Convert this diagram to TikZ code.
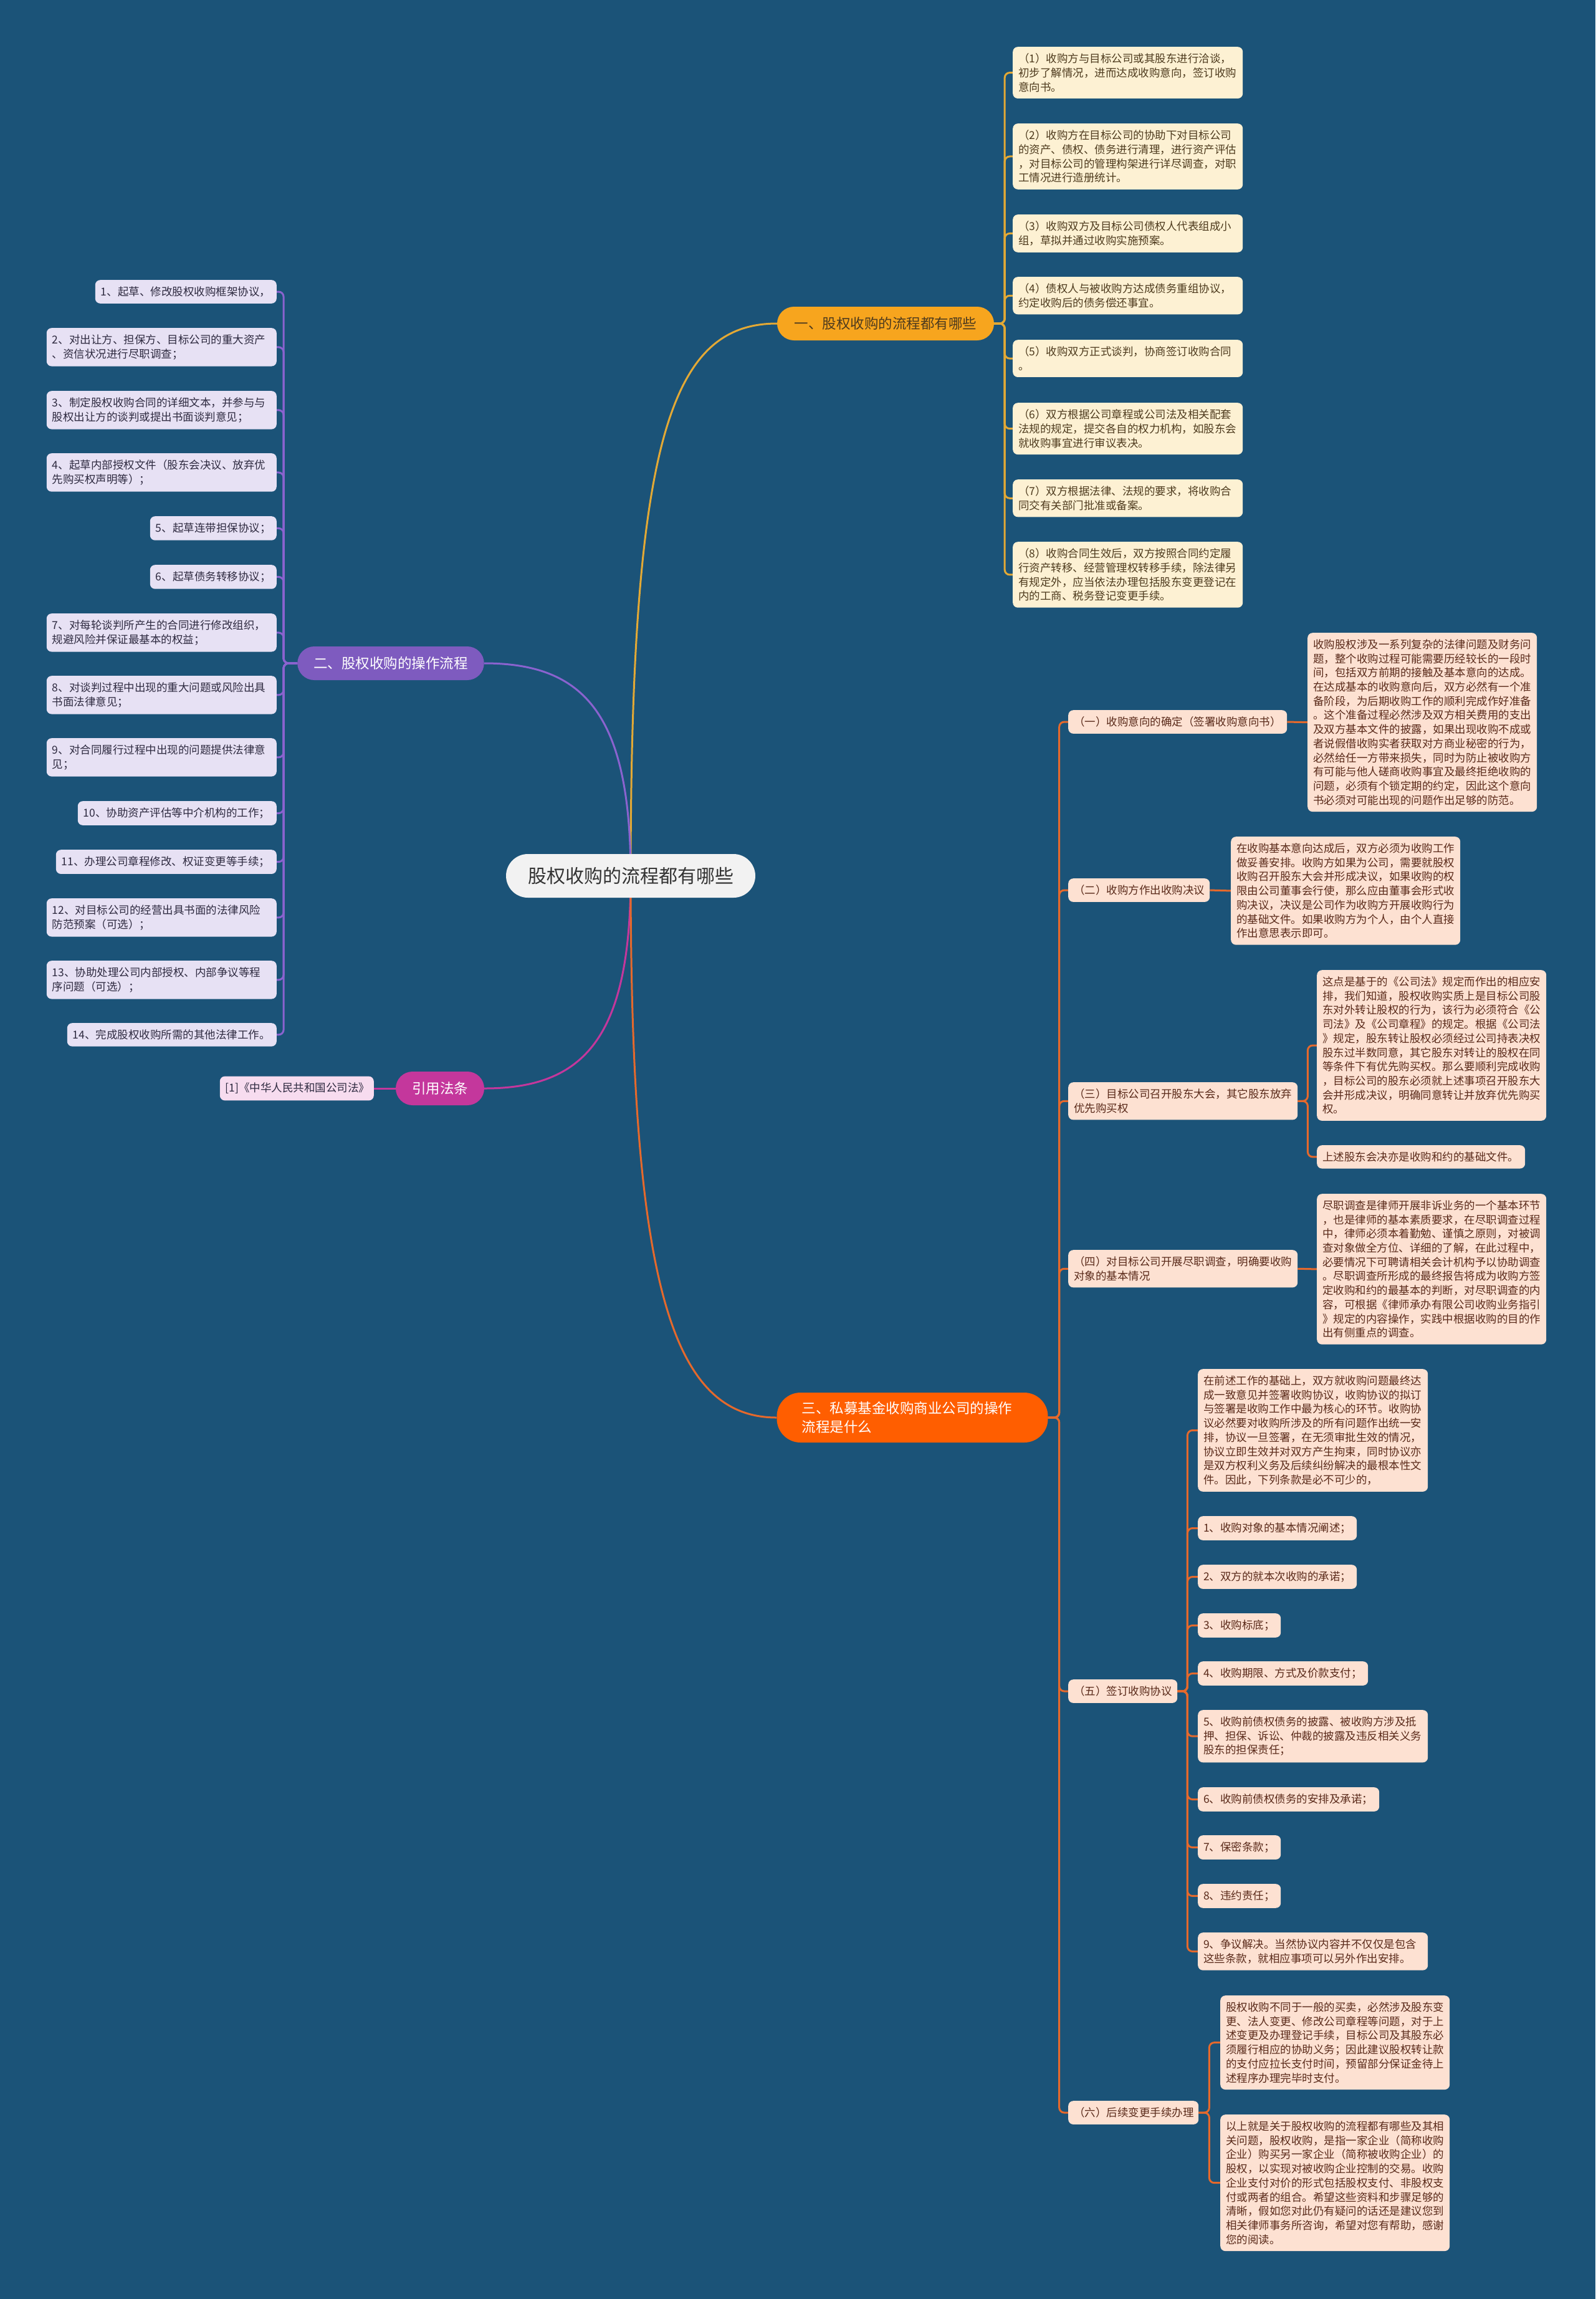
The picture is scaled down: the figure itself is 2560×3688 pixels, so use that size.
\documentclass[tikz,border=0pt]{standalone}
\usepackage{fontspec}
\newfontfamily\cjk{Noto Sans CJK SC}
\newcommand\leaffont{\cjk\fontsize{17.5pt}{22.7pt}\selectfont}
\newcommand\brfont{\cjk\fontsize{22.5pt}{30pt}\selectfont}
\newcommand\rootfont{\cjk\fontsize{30pt}{36pt}\selectfont}
\usetikzlibrary{positioning}
\pgfdeclarelayer{bg}
\pgfdeclarelayer{edges}
\pgfsetlayers{bg,edges,main}
\definecolor{bgblue}{HTML}{1B5378}
\definecolor{rootfill}{HTML}{F2F2F2}
\definecolor{yelbr}{HTML}{F7A51E}
\definecolor{yelline}{HTML}{E3A935}
\definecolor{yelleaf}{HTML}{FDF1D3}
\definecolor{yeltext}{HTML}{4E3B1E}
\definecolor{purbr}{HTML}{7E5BBF}
\definecolor{purline}{HTML}{8A63CF}
\definecolor{purleaf}{HTML}{E7E1F4}
\definecolor{purtext}{HTML}{2E2A40}
\definecolor{magbr}{HTML}{C4379C}
\definecolor{magleaf}{HTML}{F7DCEF}
\definecolor{orgbr}{HTML}{FF5E00}
\definecolor{orgline}{HTML}{E5692C}
\definecolor{orgleaf}{HTML}{FDE1D2}
\definecolor{orgtext}{HTML}{5A2A1A}

\begin{document}
\begin{tikzpicture}[x=1pt,y=-1pt,
 leafbox/.style={rounded corners=8pt,align=left,inner xsep=9pt,inner ysep=10.5pt,font=\leaffont},
 yleaf/.style={leafbox,fill=yelleaf,text=yeltext,anchor=north west,text width=351pt},
 pleaf/.style={leafbox,fill=purleaf,text=purtext,anchor=north east},
 oleaf/.style={leafbox,fill=orgleaf,text=orgtext,anchor=north west},
 brnode/.style={rounded corners=27pt,minimum height=54pt,inner xsep=26pt,font=\brfont},
 yline/.style={draw=yelline,line width=3pt,rounded corners=8pt},
 pline/.style={draw=purline,line width=3pt,rounded corners=8pt},
 mline/.style={draw=magbr,line width=3pt},
 oline/.style={draw=orgline,line width=3pt,rounded corners=8pt}]
\useasboundingbox (0,0) rectangle (2560,3688);
\begin{pgfonlayer}{bg}
 \fill[bgblue] (0,0) rectangle (2560,3688);
\end{pgfonlayer}

% centre and main branches
\node[fill=rootfill,text=black!80,rounded corners=35pt,minimum width=400pt,minimum height=70pt,font=\rootfont] (root) at (1012,1405) {股权收购的流程都有哪些};
\node[brnode,fill=yelbr,text=yeltext,minimum width=348pt] (b1) at (1421,519) {一、股权收购的流程都有哪些};
\node[brnode,fill=purbr,text=white,minimum width=299pt] (b2) at (627,1064) {二、股权收购的操作流程};
\node[brnode,fill=magbr,text=white,minimum width=142pt] (law) at (706,1746) {引用法条};
\node[brnode,fill=orgbr,text=white,minimum width=435pt,minimum height=80pt,rounded corners=38pt,align=left,text width=355pt] (b3) at (1464,2274) {三、私募基金收购商业公司的操作\\流程是什么};

\begin{pgfonlayer}{edges}
 \draw[yline] (root.center) .. controls +(0,-700) and +(-170,0) .. (b1.west);
 \draw[pline] (root.center) .. controls +(0,-260) and +(160,0) .. (b2.east);
 \draw[mline] (root.center) .. controls +(0,260) and +(160,0) .. (law.east);
 \draw[oline] (root.center) .. controls +(0,650) and +(-170,0) .. (b3.west);
\end{pgfonlayer}

% branch 1
\foreach \i/\y/\txt in {1/75/{（1）收购方与目标公司或其股东进行洽谈，\\初步了解情况，进而达成收购意向，签订收购\\意向书。},
 2/198/{（2）收购方在目标公司的协助下对目标公司\\的资产、债权、债务进行清理，进行资产评估\\，对目标公司的管理构架进行详尽调查，对职\\工情况进行造册统计。},
 3/344/{（3）收购双方及目标公司债权人代表组成小\\组，草拟并通过收购实施预案。},
 4/444/{（4）债权人与被收购方达成债务重组协议，\\约定收购后的债务偿还事宜。},
 5/545/{（5）收购双方正式谈判，协商签订收购合同\\。},
 6/646/{（6）双方根据公司章程或公司法及相关配套\\法规的规定，提交各自的权力机构，如股东会\\就收购事宜进行审议表决。},
 7/769/{（7）双方根据法律、法规的要求，将收购合\\同交有关部门批准或备案。},
 8/869/{（8）收购合同生效后，双方按照合同约定履\\行资产转移、经营管理权转移手续，除法律另\\有规定外，应当依法办理包括股东变更登记在\\内的工商、税务登记变更手续。}}
{
 \node[yleaf] (a\i) at (1625,\y) {\txt};
 \begin{pgfonlayer}{edges}
  \draw[yline] (b1.east) -- ++(17,0) |- (a\i.west);
 \end{pgfonlayer}
}

% branch 2
\foreach \i/\y/\w/\txt in {1/449/273/{1、起草、修改股权收购框架协议，},
 2/526/351/{2、对出让方、担保方、目标公司的重大资产\\、资信状况进行尽职调查；},
 3/627/351/{3、制定股权收购合同的详细文本，并参与与\\股权出让方的谈判或提出书面谈判意见；},
 4/727/351/{4、起草内部授权文件（股东会决议、放弃优\\先购买权声明等）；},
 5/828/185/{5、起草连带担保协议；},
 6/906/185/{6、起草债务转移协议；},
 7/984/351/{7、对每轮谈判所产生的合同进行修改组织，\\规避风险并保证最基本的权益；},
 8/1084/351/{8、对谈判过程中出现的重大问题或风险出具\\书面法律意见；},
 9/1184/351/{9、对合同履行过程中出现的问题提供法律意\\见；},
 10/1285/301/{10、协助资产评估等中介机构的工作；},
 11/1363/336/{11、办理公司章程修改、权证变更等手续；},
 12/1441/351/{12、对目标公司的经营出具书面的法律风险\\防范预案（可选）；},
 13/1541/351/{13、协助处理公司内部授权、内部争议等程\\序问题（可选）；},
 14/1641/318/{14、完成股权收购所需的其他法律工作。}}
{
 \node[pleaf,text width=\w pt] (p\i) at (444,\y) {\txt};
 \begin{pgfonlayer}{edges}
  \draw[pline] (b2.west) -- ++(-22,0) |- (p\i.east);
 \end{pgfonlayer}
}

% cited law
\node[leafbox,fill=magleaf,text=purtext,anchor=east,text width=229pt] (law1) at (600,1746) {[1]《中华人民共和国公司法》};
\begin{pgfonlayer}{edges}
 \draw[mline] (law.west) -- (law1.east);
\end{pgfonlayer}

% branch 3
\node[oleaf,text width=333pt] (s1) at (1714,1139) {（一）收购意向的确定（签署收购意向书）};
\node[oleaf,text width=209pt] (s2) at (1714,1409) {（二）收购方作出收购决议};
\node[oleaf,text width=350pt] (s3) at (1714,1736) {（三）目标公司召开股东大会，其它股东放弃\\优先购买权};
\node[oleaf,text width=350pt] (s4) at (1714,2005) {（四）对目标公司开展尽职调查，明确要收购\\对象的基本情况};
\node[oleaf,text width=157pt] (s5) at (1714,2694) {（五）签订收购协议};
\node[oleaf,text width=191pt] (s6) at (1714,3370) {（六）后续变更手续办理};

\node[oleaf,text width=350pt] (t1) at (2098,1015) {收购股权涉及一系列复杂的法律问题及财务问\\题，整个收购过程可能需要历经较长的一段时\\间，包括双方前期的接触及基本意向的达成。\\在达成基本的收购意向后，双方必然有一个准\\备阶段，为后期收购工作的顺利完成作好准备\\。这个准备过程必然涉及双方相关费用的支出\\及双方基本文件的披露，如果出现收购不成或\\者说假借收购实者获取对方商业秘密的行为，\\必然给任一方带来损失，同时为防止被收购方\\有可能与他人磋商收购事宜及最终拒绝收购的\\问题，必须有个锁定期的约定，因此这个意向\\书必须对可能出现的问题作出足够的防范。};
\node[oleaf,text width=350pt] (t2) at (1975,1342) {在收购基本意向达成后，双方必须为收购工作\\做妥善安排。收购方如果为公司，需要就股权\\收购召开股东大会并形成决议，如果收购的权\\限由公司董事会行使，那么应由董事会形式收\\购决议，决议是公司作为收购方开展收购行为\\的基础文件。如果收购方为个人，由个人直接\\作出意思表示即可。};
\node[oleaf,text width=350pt] (t3a) at (2113,1556) {这点是基于的《公司法》规定而作出的相应安\\排，我们知道，股权收购实质上是目标公司股\\东对外转让股权的行为，该行为必须符合《公\\司法》及《公司章程》的规定。根据《公司法\\》规定，股东转让股权必须经过公司持表决权\\股东过半数同意，其它股东对转让的股权在同\\等条件下有优先购买权。那么要顺利完成收购\\，目标公司的股东必须就上述事项召开股东大\\会并形成决议，明确同意转让并放弃优先购买\\权。};
\node[oleaf,text width=316pt] (t3b) at (2113,1837) {上述股东会决亦是收购和约的基础文件。};
\node[oleaf,text width=350pt] (t4) at (2113,1915) {尽职调查是律师开展非诉业务的一个基本环节\\，也是律师的基本素质要求，在尽职调查过程\\中，律师必须本着勤勉、谨慎之原则，对被调\\查对象做全方位、详细的了解，在此过程中，\\必要情况下可聘请相关会计机构予以协助调查\\。尽职调查所形成的最终报告将成为收购方签\\定收购和约的最基本的判断，对尽职调查的内\\容，可根据《律师承办有限公司收购业务指引\\》规定的内容操作，实践中根据收购的目的作\\出有侧重点的调查。};
\node[oleaf,text width=350pt] (t6a) at (1958,3201) {股权收购不同于一般的买卖，必然涉及股东变\\更、法人变更、修改公司章程等问题，对于上\\述变更及办理登记手续，目标公司及其股东必\\须履行相应的协助义务；因此建议股权转让款\\的支付应拉长支付时间，预留部分保证金待上\\述程序办理完毕时支付。};
\node[oleaf,text width=350pt] (t6b) at (1958,3392) {以上就是关于股权收购的流程都有哪些及其相\\关问题，股权收购，是指一家企业（简称收购\\企业）购买另一家企业（简称被收购企业）的\\股权，以实现对被收购企业控制的交易。收购\\企业支付对价的形式包括股权支付、非股权支\\付或两者的组合。希望这些资料和步骤足够的\\清晰，假如您对此仍有疑问的话还是建议您到\\相关律师事务所咨询，希望对您有帮助，感谢\\您的阅读。};

\begin{pgfonlayer}{edges}
 \foreach \s in {s1,s2,s3,s4,s5,s6}
  \draw[oline] (b3.east) -- ++(18,0) |- (\s.west);
 \draw[oline] (s1.east) -- (t1.west);
 \draw[oline] (s2.east) -- (t2.west);
 \draw[oline] (s3.east) -- ++(16,0) |- (t3a.west);
 \draw[oline] (s3.east) -- ++(16,0) |- (t3b.west);
 \draw[oline] (s4.east) -- (t4.west);
 \draw[oline] (s6.east) -- ++(17,0) |- (t6a.west);
 \draw[oline] (s6.east) -- ++(17,0) |- (t6b.west);
\end{pgfonlayer}

% agreement clauses
\foreach \i/\y/\w/\txt in {a/2196/351/{在前述工作的基础上，双方就收购问题最终达\\成一致意见并签署收购协议，收购协议的拟订\\与签署是收购工作中最为核心的环节。收购协\\议必然要对收购所涉及的所有问题作出统一安\\排，协议一旦签署，在无须审批生效的情况，\\协议立即生效并对双方产生拘束，同时协议亦\\是双方权利义务及后续纠纷解决的最根本性文\\件。因此，下列条款是必不可少的，},
 b/2432/237/{1、收购对象的基本情况阐述；},
 c/2510/237/{2、双方的就本次收购的承诺；},
 d/2588/115/{3、收购标底；},
 e/2665/255/{4、收购期限、方式及价款支付；},
 f/2743/351/{5、收购前债权债务的披露、被收购方涉及抵\\押、担保、诉讼、仲裁的披露及违反相关义务\\股东的担保责任；},
 g/2867/273/{6、收购前债权债务的安排及承诺；},
 h/2944/115/{7、保密条款；},
 i/3022/115/{8、违约责任；},
 j/3100/351/{9、争议解决。当然协议内容并不仅仅是包含\\这些条款，就相应事项可以另外作出安排。}}
{
 \node[oleaf,text width=\w pt] (t5\i) at (1922,\y) {\txt};
 \begin{pgfonlayer}{edges}
  \draw[oline] (s5.east) -- ++(16,0) |- (t5\i.west);
 \end{pgfonlayer}
}
\end{tikzpicture}
\end{document}
